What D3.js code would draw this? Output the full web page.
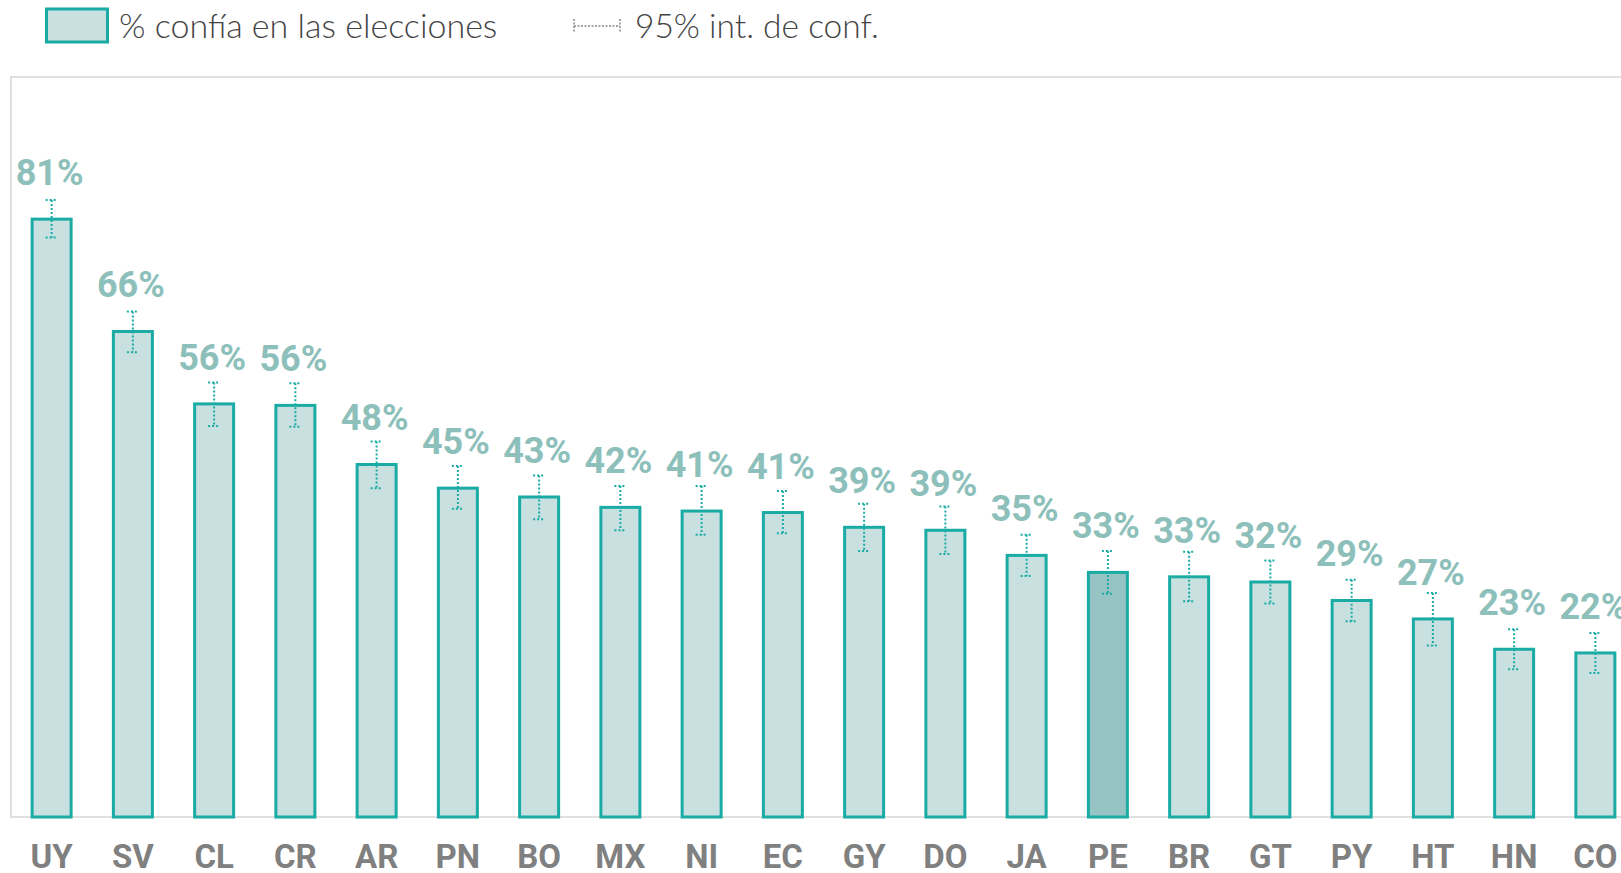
<!DOCTYPE html>
<html>
<head>
<meta charset="utf-8">
<script src="https://cdn.jsdelivr.net/npm/d3@7"></script>
<style>
  html, body { margin: 0; padding: 0; background: #fff; overflow: hidden; }
</style>
</head>
<body>
<script>
// data
const countries = ["UY","SV","CL","CR","AR","PN","BO","MX","NI","EC","GY","DO","JA","PE","BR","GT","PY","HT","HN","CO"];
const values = [80.9, 65.7, 55.9, 55.7, 47.7, 44.5, 43.3, 41.9, 41.4, 41.2, 39.2, 38.8, 35.4, 33.1, 32.5, 31.8, 29.3, 26.8, 22.7, 22.2];
const ciLow  = [78.4, 62.9, 52.9, 52.8, 44.5, 41.7, 40.3, 38.8, 38.2, 38.4, 36.0, 35.6, 32.6, 30.2, 29.2, 28.9, 26.5, 23.2, 20.0, 19.5];
const ciHigh = [83.5, 68.4, 58.8, 58.7, 50.8, 47.5, 46.2, 44.8, 44.8, 44.1, 42.4, 42.0, 38.2, 36.0, 35.9, 34.7, 32.1, 30.3, 25.4, 24.9];
const highlight = "PE";

const legendBar = "% confía en las elecciones";
const legendCI = "95% int. de conf.";

const width = 1621, height = 873;
const teal = "#1aaba4";
const barFill = "#c8e0e0";
const barFillHi = "#96c3c3";
const labelColor = "#8dbfbb";

const svg = d3.select("body").append("svg")
    .attr("width", width)
    .attr("height", height);

const rows = countries.map((c, i) => ({c: c, v: values[i], lo: ciLow[i], hi: ciHigh[i]}));

// scales
const step = 81.25;
const x = d3.scaleBand()
    .domain(countries)
    .range([11, 11 + countries.length * step])
    .paddingInner(0.52)
    .paddingOuter(0.26);
const y = d3.scaleLinear().domain([0, 100]).range([817, 78]);

// frame
svg.append("rect")
    .attr("x", 11).attr("y", y(100) - 1)
    .attr("width", 1700).attr("height", y(0) - y(100) + 1)
    .attr("fill", "none")
    .attr("stroke", "#e0e0e0")
    .attr("stroke-width", 2);

// bars
svg.append("g").selectAll("rect")
    .data(rows)
    .join("rect")
    .attr("x", d => x(d.c))
    .attr("y", d => y(d.v))
    .attr("width", x.bandwidth())
    .attr("height", d => y(0) - y(d.v))
    .attr("fill", d => d.c === highlight ? barFillHi : barFill)
    .attr("stroke", teal)
    .attr("stroke-width", 3);

// error bars
const err = svg.append("g")
    .attr("stroke", teal)
    .attr("stroke-width", 2)
    .attr("stroke-dasharray", "2,2")
    .selectAll("g")
    .data(rows)
    .join("g")
    .attr("transform", d => `translate(${x(d.c) + x.bandwidth() / 2},0)`);
err.append("line")
    .attr("y1", d => y(d.hi)).attr("y2", d => y(d.lo));
err.append("line")
    .attr("x1", -6).attr("x2", 6)
    .attr("y1", d => y(d.hi)).attr("y2", d => y(d.hi));
err.append("line")
    .attr("x1", -6).attr("x2", 6)
    .attr("y1", d => y(d.lo)).attr("y2", d => y(d.lo));

// value labels
svg.append("g").selectAll("text")
    .data(rows)
    .join("text")
    .attr("x", d => x(d.c) + x.bandwidth() / 2 - 2)
    .attr("y", d => y(d.v) - 34)
    .attr("text-anchor", "middle")
    .style("font-family", "Roboto, sans-serif")
    .style("font-weight", "700")
    .style("font-size", "36px")
    .attr("fill", labelColor)
    .text(d => Math.round(d.v) + "%");

// x axis
const axis = svg.append("g")
    .attr("transform", `translate(0,${y(0)})`)
    .call(d3.axisBottom(x).tickSize(0).tickPadding(28));
axis.select(".domain").remove();
axis.selectAll("text")
    .style("font-family", "Roboto, sans-serif")
    .style("font-weight", "700")
    .style("font-size", "33px")
    .attr("fill", "#808080");

// legend
const legend = svg.append("g");
legend.append("rect")
    .attr("x", 46.5).attr("y", 9)
    .attr("width", 61).attr("height", 33)
    .attr("fill", barFill)
    .attr("stroke", teal)
    .attr("stroke-width", 3);
legend.append("text")
    .attr("x", 119).attr("y", 38)
    .style("font-family", "Lato, 'Open Sans', sans-serif")
    .style("font-weight", "300")
    .style("font-size", "34px")
    .attr("fill", "#444")
    .text(legendBar);

const lci = legend.append("g")
    .attr("stroke", "#888")
    .attr("stroke-width", 1.5)
    .attr("stroke-dasharray", "2,1.5");
lci.append("line").attr("x1", 574).attr("x2", 620).attr("y1", 26).attr("y2", 26);
lci.append("line").attr("x1", 574).attr("x2", 574).attr("y1", 19).attr("y2", 33);
lci.append("line").attr("x1", 620).attr("x2", 620).attr("y1", 19).attr("y2", 33);
legend.append("text")
    .attr("x", 635).attr("y", 38)
    .style("font-family", "Lato, 'Open Sans', sans-serif")
    .style("font-weight", "300")
    .style("font-size", "33.5px")
    .attr("fill", "#444")
    .text(legendCI);
</script>
</body>
</html>
